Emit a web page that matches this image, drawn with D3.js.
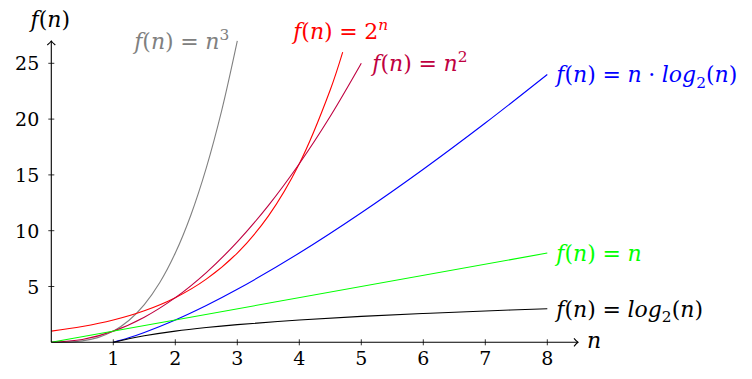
<!DOCTYPE html>
<html lang="en">
  <head>
    <meta charset="UTF-8" />
    <title>Growth of functions</title>
    <style>
      body { margin: 0; background: #fff; }
    </style>
  </head>
  <body>
    <div class="growthChart"></div>
    <script src="https://d3js.org/d3.v7.min.js"></script>
    <script>
      // ticks
      const xTicks = [1, 2, 3, 4, 5, 6, 7, 8];
      const yTicks = [5, 10, 15, 20, 25];

      // values
      const cubeN = [0, 0.25, 0.5, 0.75, 1, 1.25, 1.5, 1.75, 2, 2.25, 2.5, 2.75, 3];
      const cubeY = [0, 0.016, 0.125, 0.42, 1, 1.95, 3.38, 5.36, 8, 11.39, 15.63, 20.8, 27];

      const expN = [0, 0.5, 1, 1.5, 2, 2.5, 3, 3.5, 4, 4.5, 4.7];
      const expY = [1, 1.41, 2, 2.83, 4, 5.66, 8, 11.31, 16, 22.63, 26];

      const squareN = [0, 0.5, 1, 1.5, 2, 2.5, 3, 3.5, 4, 4.5, 5];
      const squareY = [0, 0.25, 1, 2.25, 4, 6.25, 9, 12.25, 16, 20.25, 25];

      const nlogN = [1, 1.25, 1.5, 2, 2.5, 3, 4, 5, 6, 7, 8];
      const nlogY = [0, 0.4, 0.88, 2, 3.3, 4.75, 8, 11.61, 15.51, 19.65, 24];

      const linN = [0, 8];
      const linY = [0, 8];

      const logN = [1, 1.25, 1.5, 2, 2.5, 3, 4, 5, 6, 7, 8];
      const logY = [0, 0.32, 0.58, 1, 1.32, 1.58, 2, 2.32, 2.58, 2.81, 3];

      const seriesLabels = [
        "f(n) = n^3",
        "f(n) = 2^n",
        "f(n) = n^2",
        "f(n) = n · log_2(n)",
        "f(n) = n",
        "f(n) = log_2(n)",
      ];
      const seriesColors = ["#808080", "#ff0000", "#bf0040", "#0000ff", "#00ff00", "#000000"];

      const series = [
        { n: cubeN, y: cubeY, anchor: "end", dx: -8, dy: 8 },
        { n: expN, y: expY, anchor: "middle", dx: -2, dy: -13 },
        { n: squareN, y: squareY, anchor: "start", dx: 11, dy: 8 },
        { n: nlogN, y: nlogY, anchor: "start", dx: 9, dy: 8 },
        { n: linN, y: linY, anchor: "start", dx: 9, dy: 8 },
        { n: logN, y: logY, anchor: "start", dx: 9, dy: 8 },
      ].map((s, i) => ({ ...s, label: seriesLabels[i], color: seriesColors[i] }));

      const svgWidth = 752, svgHeight = 379;
      const tickSize = 19, labelSize = 22;
      const svg = d3
        .select(".growthChart")
        .append("svg")
        .attr("width", svgWidth)
        .attr("height", svgHeight)
        .attr("font-family", "DejaVu Serif");

      const xScale = d3.scaleLinear().domain([0, 8]).range([51.3, 547.3]);
      const yScale = d3.scaleLinear().domain([0, 25]).range([342.3, 63.3]);

      // math label: letters italic, ^x superscript, _x subscript, a space adds a gap
      const mathText = (sel, str, size) => {
        let shift = 0, gap = 0;
        for (let i = 0; i < str.length; i++) {
          const c = str[i];
          if (c === " ") { gap += size * 0.3; continue; }
          const ts = sel.append("tspan").attr("font-size", size);
          let d = 0;
          let ch = c;
          if (c === "^" || c === "_") {
            ch = str[++i];
            d = c === "^" ? -size * 0.42 : size * 0.25;
            ts.attr("font-size", size * 0.7);
          }
          ts.attr("font-style", /[a-z]/.test(ch) ? "italic" : "normal").text(ch);
          if (d !== shift) ts.attr("dy", d - shift);
          shift = d;
          if (gap) { ts.attr("dx", gap); gap = 0; }
        }
      };

      // curves
      const line = d3
        .line()
        .x((d) => xScale(d[0]))
        .y((d) => yScale(d[1]))
        .curve(d3.curveCatmullRom.alpha(0.5));

      series.forEach((s) => {
        const pts = s.n.map((n, i) => [n, s.y[i]]);
        svg.append("path")
          .attr("d", line(pts))
          .attr("fill", "none")
          .attr("stroke", s.color)
          .attr("stroke-width", 1.1);

        const last = pts[pts.length - 1];
        const label = svg.append("text")
          .attr("x", xScale(last[0]) + s.dx)
          .attr("y", yScale(last[1]) + s.dy)
          .attr("text-anchor", s.anchor)
          .attr("fill", s.color);
        mathText(label, s.label, labelSize);
      });

      // axes
      const axes = svg.append("g").attr("stroke", "#000").attr("stroke-width", 1.1).attr("fill", "none");
      const x0 = xScale(0), y0 = yScale(0);
      const xEnd = 578, yEnd = 41;
      axes.append("line").attr("x1", x0).attr("y1", y0).attr("x2", xEnd).attr("y2", y0);
      axes.append("line").attr("x1", x0).attr("y1", y0).attr("x2", x0).attr("y2", yEnd);
      axes.append("path").attr("d", `M${xEnd - 4},${y0 - 4} Q${xEnd - 1.5},${y0 - 1} ${xEnd},${y0} Q${xEnd - 1.5},${y0 + 1} ${xEnd - 4},${y0 + 4}`);
      axes.append("path").attr("d", `M${x0 - 4},${yEnd + 4} Q${x0 - 1},${yEnd + 1.5} ${x0},${yEnd} Q${x0 + 1},${yEnd + 1.5} ${x0 + 4},${yEnd + 4}`);

      xTicks.forEach((t) => {
        axes.append("line")
          .attr("x1", xScale(t)).attr("x2", xScale(t))
          .attr("y1", y0 - 3).attr("y2", y0 + 3)
          .attr("stroke-width", 0.8);
      });
      yTicks.forEach((t) => {
        axes.append("line")
          .attr("y1", yScale(t)).attr("y2", yScale(t))
          .attr("x1", x0 - 3).attr("x2", x0 + 3)
          .attr("stroke-width", 0.8);
      });

      svg.append("g")
        .selectAll("text")
        .data(xTicks)
        .join("text")
        .attr("x", (d) => xScale(d))
        .attr("y", y0 + 23)
        .attr("text-anchor", "middle")
        .attr("font-size", tickSize)
        .text((d) => d);

      svg.append("g")
        .selectAll("text")
        .data(yTicks)
        .join("text")
        .attr("x", x0 - 12)
        .attr("y", (d) => yScale(d) + 7)
        .attr("text-anchor", "end")
        .attr("font-size", tickSize)
        .text((d) => d);

      // axis labels
      const nLabel = svg.append("text").attr("x", 587).attr("y", y0 + 6);
      mathText(nLabel, "n", labelSize);
      const fLabel = svg.append("text").attr("x", x0 - 1).attr("y", 27).attr("text-anchor", "middle");
      mathText(fLabel, "f(n)", labelSize);
    </script>
  </body>
</html>
